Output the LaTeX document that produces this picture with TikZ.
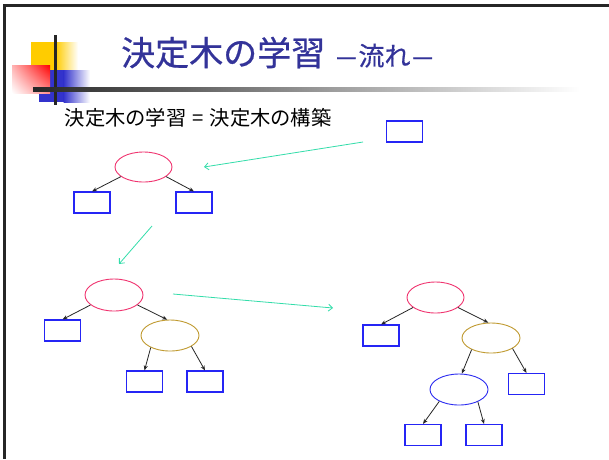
\documentclass[tikz,border=0pt]{standalone}
\usepackage{fontspec}
\newfontfamily\jp{Noto Sans CJK JP}
\newfontfamily\jpt[FakeBold=0.6]{Noto Sans CJK JP}
\usetikzlibrary{shapes.geometric,arrows.meta,shadings}
\definecolor{titleblue}{HTML}{333399}
\definecolor{pinkc}{HTML}{F0336F}
\definecolor{goldc}{HTML}{C09A30}
\definecolor{blueell}{HTML}{2B2BF0}
\definecolor{boxblue}{HTML}{2525F5}
\definecolor{greenc}{HTML}{33DDAA}
\definecolor{decoyellow}{HTML}{FFCC00}
\definecolor{decoblue}{HTML}{3333CC}
\newcommand{\widedash}{\scalebox{1.6}[1]{–}}
\begin{document}
\begin{tikzpicture}[x=1pt,y=-1pt,
  leaf/.style={draw=boxblue, line width=1.1pt, rectangle, minimum width=36pt, minimum height=21pt, inner sep=0pt},
  ell/.style={ellipse, line width=0.9pt, minimum width=57pt, minimum height=30pt, inner sep=0pt},
  edge/.style={draw=black!85, line width=0.8pt, -{Stealth[length=5pt,width=4pt]}},
  flow/.style={draw=greenc, line width=0.8pt, -{Straight Barb[length=4pt,width=7pt]}}]
\useasboundingbox (0,0) rectangle (609,459);
\fill[white] (0,0) rectangle (609,459);
% frame
\fill[black!85] (3,4) rectangle (609,7);
\fill[black!85] (3,4) rectangle (6,459);
% decoration
\fill[decoyellow] (31,42) rectangle (56,72);
\shade[left color=decoyellow, right color=white] (55.5,42) rectangle (78,72);
\fill[decoblue] (39,70) rectangle (64,102);
\shade[left color=decoblue, right color=white] (63.5,70) rectangle (90,102);
\shade[upper left=red!30!white, upper right=red, lower left=white, lower right=red!45!white] (12,65) rectangle (50,93);
\fill[black!85] (53.5,35) rectangle (56.5,105);
\shade[left color=black!85, right color=white] (33,87) rectangle (580,91);
% title
\node[anchor=base west, inner sep=0pt, text=titleblue, font=\jpt\fontsize{34}{34}\selectfont] (title) at (121,65.5) {決定木の学習\hspace{10pt}{\fontsize{26}{26}\selectfont \widedash\hspace{1pt}流れ\hspace{1pt}\widedash}};
\node[anchor=base west, inner sep=0pt, font=\jp\fontsize{20.3}{20.3}\selectfont] (sub) at (64.5,125.5) {決定木の学習\hspace{6pt}=\hspace{6pt}決定木の構築};
% top single box
\node[leaf] (b0) at (404.5,131.5) {};
\coordinate (f1s) at (363,142);
\coordinate (f1e) at (204,167);
\draw[flow] (f1s) -- (f1e);
% tree 1
\node[ell, draw=pinkc] (t1) at (143.5,167) {};
\node[leaf] (t1l) at (92,202.5) {};
\node[leaf] (t1r) at (194,202.5) {};
\draw[edge] (t1.203) -- (t1l.north);
\draw[edge] (t1.337) -- (t1r.north);
\coordinate (f2s) at (152,226);
\coordinate (f2e) at (119,264);
\draw[flow] (f2s) -- (f2e);
% tree 2
\node[ell, draw=pinkc, minimum width=58pt, minimum height=32pt] (t2) at (114,295) {};
\node[leaf] (t2l) at (62.5,330.5) {};
\node[ell, draw=goldc, minimum width=58pt, minimum height=31pt] (t2g) at (170,335.5) {};
\node[leaf] (t2gl) at (144.5,381.5) {};
\node[leaf] (t2gr) at (205,381.5) {};
\draw[edge] (t2.203) -- (t2l.north);
\draw[edge] (t2.337) -- (t2g.100);
\draw[edge] (t2g.212) -- (t2gl.north);
\draw[edge] (t2g.333) -- (t2gr.north);
\coordinate (f3s) at (173,294);
\coordinate (f3e) at (333,308);
\draw[flow] (f3s) -- (f3e);
% tree 3
\node[ell, draw=pinkc, minimum height=31pt] (t3) at (435.5,297.5) {};
\node[leaf] (t3l) at (381,335.5) {};
\node[ell, draw=goldc, minimum width=58pt] (t3g) at (491,338) {};
\node[leaf] (t3gr) at (526.5,384) {};
\node[ell, draw=blueell, minimum width=58pt, minimum height=31pt] (t3b) at (459,389.5) {};
\node[leaf] (t3bl) at (423,435) {};
\node[leaf] (t3br) at (484,435) {};
\draw[edge] (t3.204) -- (t3l.north);
\draw[edge] (t3.336) -- (t3g.100);
\draw[edge] (t3g.211) -- (t3b.80);
\draw[edge] (t3g.334) -- (t3gr.north);
\draw[edge] (t3b.211) -- (t3bl.north);
\draw[edge] (t3b.327) -- (t3br.north);
\end{tikzpicture}
\end{document}
